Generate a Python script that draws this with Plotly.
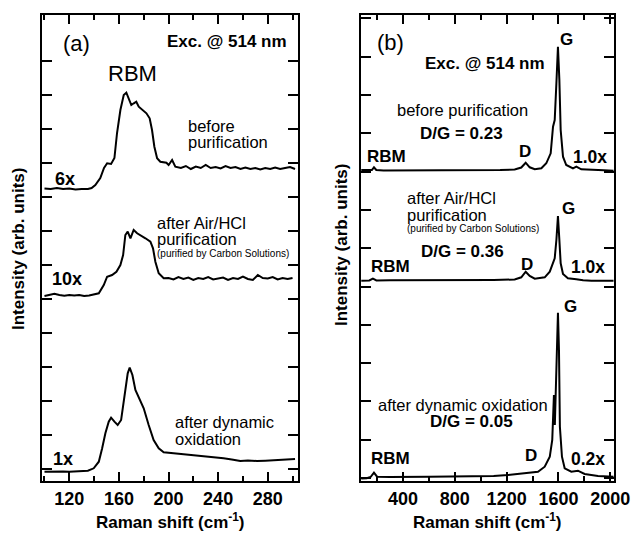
import plotly.graph_objects as go

# ---------------- data (a): RBM region, intensity in arbitrary units ----------------
a_before_x = [100, 105, 110, 115, 120, 125, 130, 135, 138, 141, 145, 148, 150.5, 153.7, 156.4, 158.5,
              161.2, 163.9, 166, 168, 170, 172, 174, 176, 178.7, 182.2, 184.8, 186.7, 188.6, 190.8,
              193.4, 198.3, 200.1, 202.9, 205.5, 210, 214, 218, 222, 226, 230, 234, 238, 242, 246,
              250, 254, 258, 262, 266, 270, 274, 278, 282, 286, 290, 294, 298, 302]
a_before_y = [292.5, 292, 293, 292, 292.5, 291.5, 292, 292, 293, 296, 303, 313, 317.7, 317, 323, 348,
              371, 386, 388.3, 382.7, 376, 377.7, 379.3, 374.3, 371, 367.7, 362.7, 351, 334.3, 322.7,
              319.3, 318.3, 316, 321, 314.3, 313, 315, 312, 314.5, 313, 316, 313, 314, 312.5, 315,
              313, 314, 312, 313.5, 312, 313, 311.5, 313, 312, 313.5, 312, 313, 314, 312]

a_air_x = [100, 104, 108, 112, 116, 120, 124, 128, 132, 136, 140, 143.8, 147.8, 150.5, 154.5, 158,
           161.2, 163.4, 165.2, 167.1, 169.3, 171.9, 174.7, 177.3, 181.4, 185.4, 187.5, 189.4, 192.1,
           196.1, 200, 204, 208, 212, 216, 220, 224, 228, 232, 236, 240, 244, 248, 252, 256, 260,
           264, 268, 272, 276, 280, 284, 288, 292, 296, 300]
a_air_y = [185, 186.5, 187.3, 186, 185.3, 186, 185.5, 186, 185, 185.5, 186.5, 187.7, 196, 204.3, 206,
           209.3, 216, 226, 246, 249.3, 242.7, 251, 247.7, 246, 242.7, 239.3, 232.7, 219.3, 207.7,
           202.7, 203, 201.5, 204, 202, 203.5, 201, 203, 202, 204, 201.5, 202.5, 203.5, 201, 203,
           202, 204.5, 202, 201, 206, 203, 202.5, 204, 201.5, 203, 202, 203]

a_oxid_x = [100, 105, 110, 115, 120, 125, 130, 135, 139.7, 143.8, 146.5, 149.1, 151.8, 153.7, 156.4,
            159, 161.8, 164.4, 167.1, 168.7, 170.9, 173.3, 176, 180, 184, 188, 192.1, 196.1, 204.1,
            210, 217.6, 224, 231, 238, 244.4, 251, 257.9, 264, 271.3, 278, 284.7, 291, 297, 302]
a_oxid_y = [9.3, 9.5, 9.3, 9.6, 9.2, 9.4, 9.8, 10.3, 12.7, 19.3, 32.7, 47.7, 59.3, 63.3, 59.3,
            56, 61, 82.7, 107.7, 113.3, 106, 91, 84.3, 72.7, 56, 41, 32.7, 28.7, 27.7,
            27, 26, 25.5, 24.3, 23.5, 22.7, 21.5, 20, 20.5, 20, 20.3, 20.7, 21, 21.5, 22]

# ---------------- data (b): full range ----------------
b_before_x = [78, 120, 160, 176, 194, 250, 400, 600, 800, 1000, 1150, 1262, 1313, 1347, 1378, 1417,
              1468, 1506, 1540, 1558, 1571, 1584, 1596, 1607, 1617, 1635, 1660, 1712, 1738, 1776,
              1854, 1950, 2025]
b_before_y = [311, 311, 311, 313.7, 311, 310.5, 310.5, 310.5, 310.7, 310.7, 311, 311.5, 313.5, 318.3,
              313.7, 311.7, 312.7, 317.7, 327.7, 354.3, 361, 397.7, 434.3, 401, 351, 324.3, 316,
              312.7, 314.3, 311.7, 311, 310.7, 310.3]

b_air_x = [78, 140, 168, 195, 300, 500, 800, 1100, 1262, 1313, 1347, 1378, 1417, 1494, 1533, 1558,
           1571, 1584, 1596, 1607, 1617, 1635, 1673, 1738, 1790, 1854, 1950, 2025]
b_air_y = [200.3, 200.5, 202.3, 200.5, 200.7, 200.7, 201, 201, 201.5, 203.7, 209.3, 205, 202.3,
           203.7, 209.3, 219.3, 222.7, 241, 265, 241, 217.7, 207, 202.7, 201.7, 200.7, 200.3,
           200.3, 200.3]

b_oxid_x = [78, 120, 150, 176, 200, 300, 600, 900, 1100, 1210, 1339, 1442, 1494, 1533, 1552, 1557,
            1565, 1572, 1586, 1596, 1604, 1611, 1627, 1648, 1699, 1750, 1802, 1905, 2025]
b_oxid_y = [2.5, 2.7, 4, 8.3, 4.3, 4, 4.3, 4.5, 5, 6, 7.7, 9.3, 14.3, 24.3, 41, 54.3,
            86, 56, 114.3, 168.3, 131, 54.3, 24.3, 12.7, 9.3, 10.3, 7, 5, 4.3]

# ---------------- figure ----------------
W, H = 633, 534
MT, MB = 15, 53
PH = H - MT - MB
FONT = "Liberation Sans, Arial, Helvetica, sans-serif"

fig = go.Figure()
ln = dict(color="black", width=2)
for xs, ys in [(a_before_x, a_before_y), (a_air_x, a_air_y), (a_oxid_x, a_oxid_y)]:
    fig.add_trace(go.Scatter(x=xs, y=ys, mode="lines", line=ln, xaxis="x", yaxis="y",
                             showlegend=False, hoverinfo="skip"))
for xs, ys in [(b_before_x, b_before_y), (b_air_x, b_air_y), (b_oxid_x, b_oxid_y)]:
    fig.add_trace(go.Scatter(x=xs, y=ys, mode="lines", line=ln, xaxis="x2", yaxis="y2",
                             showlegend=False, hoverinfo="skip"))

common = dict(showline=True, linecolor="black", linewidth=2, mirror="ticks", ticks="inside",
              tickcolor="black", tickwidth=2, showgrid=False, zeroline=False, fixedrange=True,
              automargin=False)

fig.update_layout(
    width=W, height=H, margin=dict(l=0, r=0, t=MT, b=MB, autoexpand=False),
    paper_bgcolor="white", plot_bgcolor="white",
    font=dict(family=FONT, color="black"),
    xaxis=dict(domain=[42 / W, 298 / W], range=[98, 304.4], tick0=120, dtick=40, ticklen=9,
               tickfont=dict(size=18, weight="bold"), anchor="y",
               minor=dict(ticks="inside", ticklen=5, tick0=100, dtick=20, tickcolor="black", tickwidth=2),
               **common),
    yaxis=dict(domain=[0, 1], range=[0, 466], tickvals=[12 + 34 * k for k in range(13)], ticklen=10,
               showticklabels=False, anchor="x", **common),
    xaxis2=dict(domain=[361 / W, 614 / W], range=[76, 2028.6], tick0=400, dtick=400, ticklen=9,
                tickfont=dict(size=18, weight="bold"), anchor="y2",
                minor=dict(ticks="inside", ticklen=5, tick0=200, dtick=200, tickcolor="black", tickwidth=2),
                **common),
    yaxis2=dict(domain=[0, 1], range=[0, 466], tickvals=[3 + 38.3 * k for k in range(13)], ticklen=10,
                showticklabels=False, anchor="x2", **common),
)


def ann(text, px, py, size, bold=False, xanchor="left", angle=0):
    fig.add_annotation(
        text=f"<b>{text}</b>" if bold else text,
        x=px / W, y=(H - MB - py) / PH, xref="paper", yref="paper",
        xanchor=xanchor, yanchor="middle", showarrow=False, textangle=angle,
        font=dict(size=size, family=FONT, color="black"), borderpad=0)


# panel (a)
ann("(a)", 62, 43, 22)
ann("Exc. @ 514 nm", 288, 41.5, 17, True, "right")
ann("RBM", 107, 73.5, 22)
ann("before", 187, 126, 16.5)
ann("purification", 187, 142, 16.5)
ann("6x", 54, 179, 18, True)
ann("after Air/HCl", 156, 223, 16.5)
ann("purification", 156, 239, 16.5)
ann("(purified by Carbon Solutions)", 156, 253, 10)
ann("10x", 51, 279, 18, True)
ann("after dynamic", 174, 422, 16.5)
ann("oxidation", 174, 439, 16.5)
ann("1x", 52, 459, 18, True)

# panel (b)
ann("(b)", 376, 42.5, 22)
ann("G", 559, 40, 17, True)
ann("Exc. @ 514 nm", 424, 63.5, 17, True)
ann("before purification", 396, 110, 16.5)
ann("D/G = 0.23", 419, 133.5, 17, True)
ann("RBM", 366, 156.5, 17, True)
ann("D", 518, 151.5, 17, True)
ann("1.0x", 572, 156.5, 17.5, True)
ann("after Air/HCl", 406, 198, 16.5)
ann("purification", 406, 215, 16.5)
ann("(purified by Carbon Solutions)", 406, 229, 10)
ann("G", 561, 208.5, 17, True)
ann("D/G = 0.36", 420, 251.5, 17, True)
ann("RBM", 370, 266.5, 17, True)
ann("D", 520, 264.5, 17, True)
ann("1.0x", 570, 266.5, 17.5, True)
ann("G", 563, 306, 17, True)
ann("after dynamic oxidation", 377, 404.5, 16.5)
ann("D/G = 0.05", 429, 421.5, 17, True)
ann("RBM", 370, 458.5, 17, True)
ann("D", 524, 455, 17, True)
ann("0.2x", 570, 458.5, 17.5, True)

# axis titles
ann("Raman shift (cm<sup>-1</sup>)", 170, 521, 17, True, "center")
ann("Raman shift (cm<sup>-1</sup>)", 487.5, 521, 17, True, "center")
ann("Intensity (arb. units)", 19, 249, 17, True, "center", -90)
ann("Intensity (arb. units)", 341, 245, 17, True, "center", -90)

fig.write_html("out.html", config={"displayModeBar": False},
               post_script="document.body.style.margin='0';document.body.style.overflow='hidden';")
